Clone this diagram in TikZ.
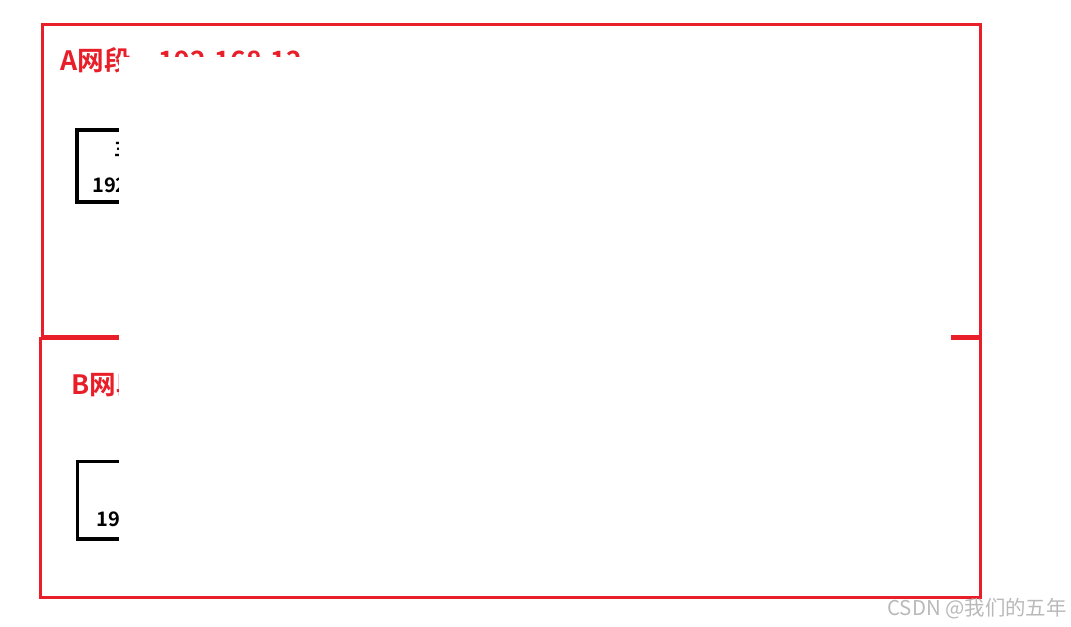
\documentclass[tikz,border=0pt]{standalone}
\usepackage{fontspec}
\setmainfont{Noto Sans CJK SC}[BoldFont={Noto Sans CJK SC Bold}]
\definecolor{netred}{RGB}{232,30,40}
\definecolor{markgray}{RGB}{185,185,185}
\tikzset{
	netbox/.style={draw=netred, line width=2.25pt},
	hostbox/.style={draw=black, line width=2.4pt},
	netlabel/.style={anchor=base west, inner sep=0pt, text=netred, font=\bfseries\fontsize{20}{24}\selectfont},
	hostlabel/.style={anchor=base west, inner sep=0pt, font=\bfseries\fontsize{15}{18}\selectfont},
	watermarktext/.style={anchor=base east, inner sep=0pt, text=markgray, font=\fontsize{15.3}{17}\selectfont},
}

\begin{document}
\begin{tikzpicture}[x=0.75pt, y=-0.75pt]
		\useasboundingbox (0,0) rectangle (1071,627);
		
		% A segment
		\draw[netbox] (42,24.5) rectangle (980,336.5);
		\node (labelA) [netlabel] at (60,71) {A网段\hspace{21pt}192.168.12};
		\draw[hostbox] (77,130) rectangle (260,202);
		\node (hostA) [hostlabel] at (114,156) {主机A};
		\node (ipA) [hostlabel] at (92,193) {192.168.12.2};
		
		% B segment
		\draw[netbox] (40.5,339) rectangle (980,597);
		\node (labelB) [netlabel] at (71,394) {B网段\hspace{21pt}192.168.13};
		\draw[hostbox] (77.5,461.5) rectangle (260,539);
		\node (ipB) [hostlabel] at (96,526) {192.168.13.2};
		
		% the part of the page left blank
		\fill[white] (118.5,57) rectangle (951,595.4);
		
		\node (watermark) [watermarktext] at (1067,615) {CSDN @我们的五年};
	\end{tikzpicture}
\end{document}
